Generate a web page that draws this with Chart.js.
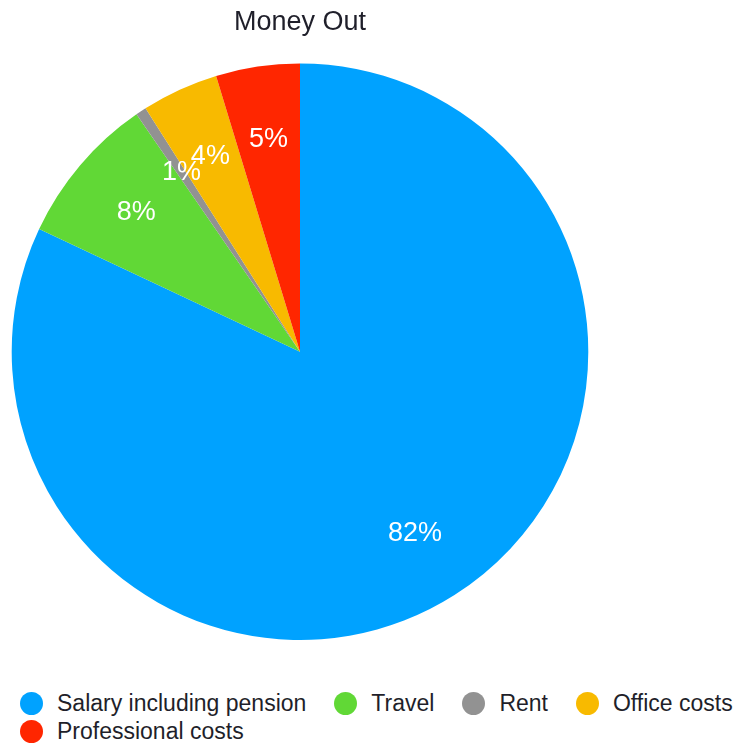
<!DOCTYPE html>
<html>
<head>
<meta charset="utf-8">
<title>Money Out</title>
<script src="https://cdn.jsdelivr.net/npm/chart.js@4"></script>
<style>
    body {
        margin: 0;
        width: 756px;
        height: 745px;
        background: #ffffff;
        position: relative;
        overflow: hidden;
        font-family: "Liberation Sans", Arial, Helvetica, sans-serif;
    }
    #chartBox {
        position: absolute;
        left: 0;
        top: 0;
    }
    #legend {
        position: absolute;
        left: 20px;
        top: 689px;
        width: 736px;
        display: flex;
        flex-wrap: wrap;
        column-gap: 28px;
        font-size: 23px;
        line-height: 28px;
        color: #1f1f2a;
    }
    .legend-item {
        display: flex;
        align-items: center;
        white-space: nowrap;
    }
    .legend-dot {
        width: 23px;
        height: 23px;
        border-radius: 50%;
        margin-right: 14px;
    }
</style>
</head>
<body>
<div id="chartBox">
    <canvas id="moneyOutChart" width="600" height="640"></canvas>
</div>
<div id="legend"></div>

<script>
// Chart data
const categories = ['Salary including pension', 'Travel', 'Rent', 'Office costs', 'Professional costs'];
const shares = [82.0, 8.4, 0.6, 4.3, 4.7];
const colors = ['#00A2FF', '#61D836', '#929292', '#F8BA00', '#FF2600'];

const legendEl = document.getElementById('legend');

// Percent labels inside the slices
const sliceLabels = {
    id: 'sliceLabels',
    afterDatasetsDraw(chart) {
        const ctx = chart.ctx;
        const meta = chart.getDatasetMeta(0);
        const data = chart.data.datasets[0].data;
        const total = data.reduce((acc, item) => acc + item, 0);

        ctx.save();
        ctx.fillStyle = '#ffffff';
        ctx.font = '500 27px "Liberation Sans", Arial, sans-serif';
        ctx.textAlign = 'center';
        ctx.textBaseline = 'middle';

        meta.data.forEach((arc, i) => {
            const { x, y, startAngle, endAngle, outerRadius } = arc.getProps(['x', 'y', 'startAngle', 'endAngle', 'outerRadius'], true);
            const mid = (startAngle + endAngle) / 2;
            const r = outerRadius * 0.745;
            const text = Math.round(data[i] / total * 100) + '%';
            ctx.fillText(text, x + Math.cos(mid) * r, y + Math.sin(mid) * r);
        });
        ctx.restore();
    }
};

// Build the pie
function createPieChart() {
    const ctx = document.getElementById('moneyOutChart').getContext('2d');

    return new Chart(ctx, {
        type: 'pie',
        data: {
            labels: categories,
            datasets: [{
                data: shares,
                backgroundColor: colors,
                borderWidth: 0
            }]
        },
        options: {
            responsive: false,
            animation: false,
            layout: { padding: 0 },
            plugins: {
                title: {
                    display: true,
                    text: 'Money Out',
                    color: '#1f1f2a',
                    font: { family: '"Liberation Sans", Arial, sans-serif', size: 27, weight: 'normal' },
                    padding: { top: 6, bottom: 25 }
                },
                legend: { display: false },
                tooltip: { enabled: false }
            }
        },
        plugins: [sliceLabels]
    });
}

// HTML legend under the chart
function createLegend() {
    categories.forEach((name, i) => {
        const item = document.createElement('div');
        item.className = 'legend-item';
        item.innerHTML = `<span class="legend-dot" style="background:${colors[i]}"></span><span>${name}</span>`;
        legendEl.appendChild(item);
    });
}

createPieChart();
createLegend();
</script>
</body>
</html>
